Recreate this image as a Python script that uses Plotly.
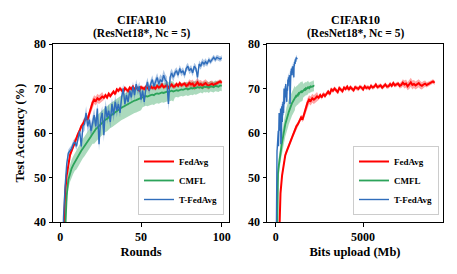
import plotly.graph_objects as go

rounds = list(range(1, 101))

fedavg_acc = [
    22.0, 36.0, 46.5, 50.5, 53.0, 55.0, 56.0, 57.0, 57.8, 59.0,
    59.8, 60.5, 61.5, 62.0, 62.8, 63.5, 63.2, 64.5, 65.5, 66.8,
    67.5, 67.2, 67.8, 67.5, 67.8, 68.2, 67.9, 68.5, 68.0, 68.8,
    68.3, 68.9, 69.3, 68.7, 69.8, 69.5, 70.0, 69.6, 69.2, 70.1,
    69.8, 69.4, 70.2, 69.9, 70.4, 69.7, 70.3, 70.0, 69.6, 70.3,
    70.1, 69.9, 70.4, 70.2, 69.8, 70.5, 70.1, 70.3, 70.0, 70.6,
    70.2, 70.4, 70.9, 70.3, 70.5, 70.7, 70.2, 70.6, 70.9, 70.4,
    70.5, 71.0, 70.6, 71.2, 70.7, 70.9, 71.1, 70.6, 70.8, 71.3,
    70.9, 71.1, 70.5, 70.9, 71.4, 70.8, 71.0, 70.7, 70.9, 71.2,
    70.8, 70.6, 70.9, 71.1, 70.8, 71.0, 71.2, 71.4, 71.6, 71.3,
]
fedavg_spread = [
    0.6, 0.6, 0.6, 0.6, 0.6, 0.6, 0.6, 0.6, 0.6, 0.6,
    0.6, 0.6, 0.6, 0.6, 0.6, 0.6, 0.7, 1.0, 1.0, 1.0,
    1.0, 1.0, 1.0, 1.0, 1.0, 1.0, 0.5, 0.5, 0.5, 0.5,
    0.5, 0.5, 0.5, 0.5, 0.5, 0.5, 0.5, 0.5, 0.5, 0.5,
    0.5, 0.5, 0.5, 0.5, 0.5, 0.5, 0.5, 0.5, 0.5, 0.5,
    0.5, 0.5, 0.5, 0.5, 0.5, 0.5, 0.5, 0.5, 0.5, 0.5,
    0.5, 0.5, 0.5, 0.5, 0.5, 0.5, 0.5, 0.5, 0.5, 0.5,
    0.5, 0.5, 0.5, 0.5, 0.5, 0.5, 0.5, 0.6, 0.7, 0.8,
    0.9, 0.9, 0.9, 1.0, 1.0, 1.0, 0.9, 0.9, 0.9, 0.9,
    0.9, 0.8, 0.8, 0.7, 0.6, 0.5, 0.5, 0.5, 0.5, 0.5,
]

cmfl_acc = [
    20.0, 30.0, 40.5, 46.0, 49.5, 51.0, 52.0, 52.8, 53.5, 54.0,
    54.6, 55.3, 56.0, 56.5, 57.0, 57.6, 58.2, 58.7, 59.2, 59.8,
    60.4, 60.9, 61.2, 61.6, 62.0, 62.3, 62.7, 63.0, 63.2, 63.6,
    63.9, 64.1, 64.4, 64.7, 65.0, 65.2, 65.4, 65.7, 65.9, 66.1,
    66.3, 66.6, 66.8, 66.9, 67.1, 67.3, 67.4, 67.6, 67.7, 67.9,
    68.0, 68.1, 68.3, 68.2, 68.4, 68.5, 68.6, 68.5, 68.8, 68.9,
    68.8, 69.0, 69.1, 69.0, 69.2, 69.3, 69.2, 69.4, 69.5, 69.3,
    69.5, 69.6, 69.5, 69.7, 69.8, 69.7, 69.9, 70.0, 69.8, 70.0,
    70.1, 70.0, 70.2, 70.1, 70.3, 70.2, 70.3, 70.1, 70.4, 70.3,
    70.4, 70.2, 70.5, 70.4, 70.3, 70.6, 70.5, 70.4, 70.7, 70.6,
]
cmfl_spread = [
    1.0, 1.0, 2.0, 2.0, 2.0, 2.0, 2.0, 2.0, 2.0, 2.2,
    2.2, 2.2, 2.2, 2.2, 2.2, 2.2, 2.2, 2.2, 2.2, 2.2,
    2.8, 2.8, 2.8, 2.8, 2.8, 2.8, 2.8, 2.8, 2.8, 2.8,
    2.8, 2.8, 2.8, 2.8, 2.8, 2.8, 2.8, 2.8, 2.8, 2.8,
    2.8, 2.8, 2.8, 2.8, 2.8, 2.8, 2.8, 2.8, 2.8, 2.8,
    2.2, 2.2, 2.2, 2.2, 2.2, 2.2, 2.2, 2.2, 2.2, 2.2,
    2.2, 2.2, 2.2, 2.2, 2.2, 2.2, 2.2, 2.2, 2.2, 2.2,
    1.5, 1.5, 1.5, 1.5, 1.5, 1.5, 1.5, 1.5, 1.5, 1.5,
    1.5, 1.5, 1.5, 1.5, 1.5, 1.2, 1.2, 1.2, 1.2, 1.2,
    1.2, 1.2, 1.2, 1.2, 1.2, 1.2, 1.2, 1.2, 1.2, 1.2,
]

tfedavg_acc = [
    25.0, 41.0, 48.0, 53.0, 55.5, 56.0, 56.5, 57.5, 58.0, 57.0,
    59.0, 60.5, 57.0, 61.5, 62.0, 64.5, 61.5, 63.0, 60.5, 62.5,
    64.0, 61.5, 65.5, 57.5, 63.0, 64.5, 59.5, 66.0, 63.5, 65.0,
    62.5, 66.5, 64.0, 67.0, 65.0, 66.5, 64.5, 68.0, 70.0, 66.5,
    68.5, 67.0, 69.5, 68.0, 70.5, 68.5, 71.0, 69.5, 70.5, 67.5,
    69.5, 67.0, 70.0, 71.5, 69.5, 71.0, 72.0, 70.5, 71.5, 72.5,
    71.0, 72.0, 71.5, 73.0, 72.0, 71.5, 66.5, 72.5, 73.5, 72.5,
    73.5, 74.0, 73.0, 74.5, 73.5, 74.0, 73.0, 74.5, 75.0, 74.0,
    74.5, 73.5, 75.0, 74.5, 72.5, 75.5, 75.0, 76.0, 75.5, 76.0,
    75.5, 76.5, 76.0, 76.5, 77.0, 76.5, 77.0, 76.8, 76.6, 76.9,
]
tfedavg_spread = [
    0.8, 0.8, 0.8, 0.8, 0.8, 0.8, 0.8, 0.8, 0.8, 0.8,
    0.8, 0.8, 0.8, 1.5, 1.5, 1.5, 1.5, 1.5, 1.5, 1.5,
    1.5, 1.5, 1.5, 1.5, 1.5, 1.5, 1.5, 1.5, 1.5, 1.5,
    1.5, 1.5, 1.5, 1.5, 1.5, 1.0, 1.0, 1.0, 1.0, 1.0,
    1.0, 1.0, 1.0, 1.0, 1.0, 1.0, 1.0, 1.0, 1.0, 1.0,
    1.0, 1.0, 1.0, 1.0, 1.0, 1.0, 1.0, 1.0, 1.0, 1.0,
    1.2, 1.2, 1.2, 1.2, 1.2, 1.2, 1.5, 1.2, 1.0, 1.0,
    0.8, 0.8, 0.8, 0.8, 0.8, 0.8, 0.8, 0.8, 0.8, 0.8,
    0.8, 0.8, 0.8, 0.8, 1.2, 0.8, 0.8, 0.8, 0.8, 0.8,
    0.6, 0.6, 0.6, 0.6, 0.6, 0.6, 0.6, 0.6, 0.6, 0.6,
]

# Upload per round (Mb)
fedavg_mb_per_round = 91.0
cmfl_mb_per_round = 21.9
tfedavg_mb_per_round = 12.2

series_names = ["FedAvg", "CMFL", "T-FedAvg"]
title_line1 = "CIFAR10"
title_line2 = "(ResNet18*, Nc = 5)"
y_ticks = [40, 50, 60, 70, 80]
x_ticks_rounds = [0, 50, 100]
x_ticks_bits = [0, 5000]

colors = {"FedAvg": "#ff0000", "CMFL": "#2ca35a", "T-FedAvg": "#2f6dbb"}
fills = {"FedAvg": "rgba(255,0,0,0.35)", "CMFL": "rgba(44,163,90,0.4)",
         "T-FedAvg": "rgba(47,109,187,0.4)"}
widths = {"FedAvg": 2.0, "CMFL": 1.8, "T-FedAvg": 1.4}

data = {
    "FedAvg": (fedavg_acc, fedavg_spread, fedavg_mb_per_round),
    "CMFL": (cmfl_acc, cmfl_spread, cmfl_mb_per_round),
    "T-FedAvg": (tfedavg_acc, tfedavg_spread, tfedavg_mb_per_round),
}

FONT = "Liberation Serif, Times New Roman, serif"
fig = go.Figure()

# page body has an 8px margin: figure is drawn at (8, 8)
OFF = 8
W, H = 457 - OFF, 274 - OFF
L1, R1 = 53 - OFF, 229 - OFF
L2, R2 = 267 - OFF, 443 - OFF
TOP, BOT = 44 - OFF, 222 - OFF

for panel, (xa, ya, leg) in enumerate([("x", "y", "legend"), ("x2", "y2", "legend2")]):
    order = ["CMFL", "FedAvg", "T-FedAvg"]
    for name in order:
        acc, spr, rate = data[name]
        xs = rounds if panel == 0 else [r * rate for r in rounds]
        upper = [a + s for a, s in zip(acc, spr)]
        lower = [a - s for a, s in zip(acc, spr)]
        fig.add_trace(go.Scatter(x=xs, y=upper, mode="lines", line=dict(width=0),
                                 showlegend=False, hoverinfo="skip", xaxis=xa, yaxis=ya))
        fig.add_trace(go.Scatter(x=xs, y=lower, mode="lines", line=dict(width=0),
                                 fill="tonexty", fillcolor=fills[name],
                                 showlegend=False, hoverinfo="skip", xaxis=xa, yaxis=ya))
    for name in series_names:
        acc, spr, rate = data[name]
        xs = rounds if panel == 0 else [r * rate for r in rounds]
        fig.add_trace(go.Scatter(x=xs, y=acc, mode="lines", name=name,
                                 line=dict(color=colors[name], width=widths[name]),
                                 xaxis=xa, yaxis=ya, legend=leg))

axis_common = dict(showline=True, mirror=True, linecolor="black", linewidth=1,
                   ticks="outside", ticklen=3.5, tickcolor="black", tickwidth=1,
                   showgrid=False, zeroline=False, automargin=False,
                   tickfont=dict(family=FONT, size=12, color="black", weight="bold"))
title_font = dict(family=FONT, size=12.5, color="black", weight="bold")
legend_common = dict(xanchor="right", yanchor="bottom", traceorder="normal",
                     bordercolor="#cccccc", borderwidth=1, bgcolor="white",
                     font=dict(family=FONT, size=9, color="black", weight="bold"),
                     tracegroupgap=0, itemwidth=30)

fig.update_layout(
    width=W, height=H,
    margin=dict(l=0, r=0, t=0, b=0),
    paper_bgcolor="white", plot_bgcolor="white",
    font=dict(family=FONT, color="black", weight="bold"),
    xaxis=dict(domain=[L1 / W, R1 / W], range=[-4.5, 104.5], tickvals=x_ticks_rounds,
               title=dict(text="Rounds", font=title_font, standoff=4), anchor="y", **axis_common),
    yaxis=dict(domain=[(H - BOT) / H, (H - TOP) / H], range=[40, 80], tickvals=y_ticks,
               title=dict(text="Test Accuracy (%)", font=title_font, standoff=6), anchor="x",
               **axis_common),
    xaxis2=dict(domain=[L2 / W, R2 / W], range=[-500, 9580], tickvals=x_ticks_bits,
                title=dict(text="Bits upload (Mb)", font=title_font, standoff=4), anchor="y2",
                **axis_common),
    yaxis2=dict(domain=[(H - BOT) / H, (H - TOP) / H], range=[40, 80], tickvals=y_ticks,
                anchor="x2", **axis_common),
    legend=dict(x=(224 - OFF) / W, y=(H - (215 - OFF)) / H, **legend_common),
    legend2=dict(x=(439 - OFF) / W, y=(H - (215 - OFF)) / H, **legend_common),
    showlegend=True,
)

for cx in [(L1 + R1) / 2, (L2 + R2) / 2]:
    fig.add_annotation(x=cx / W, y=(H - (20 - OFF)) / H, xref="paper", yref="paper",
                       text=title_line1, showarrow=False, xanchor="center", yanchor="middle",
                       font=dict(family=FONT, size=12, color="black", weight="bold"))
    fig.add_annotation(x=cx / W, y=(H - (33 - OFF)) / H, xref="paper", yref="paper",
                       text=title_line2, showarrow=False, xanchor="center", yanchor="middle",
                       font=dict(family=FONT, size=11.5, color="black", weight="bold"))

fig.write_html("out.html")
